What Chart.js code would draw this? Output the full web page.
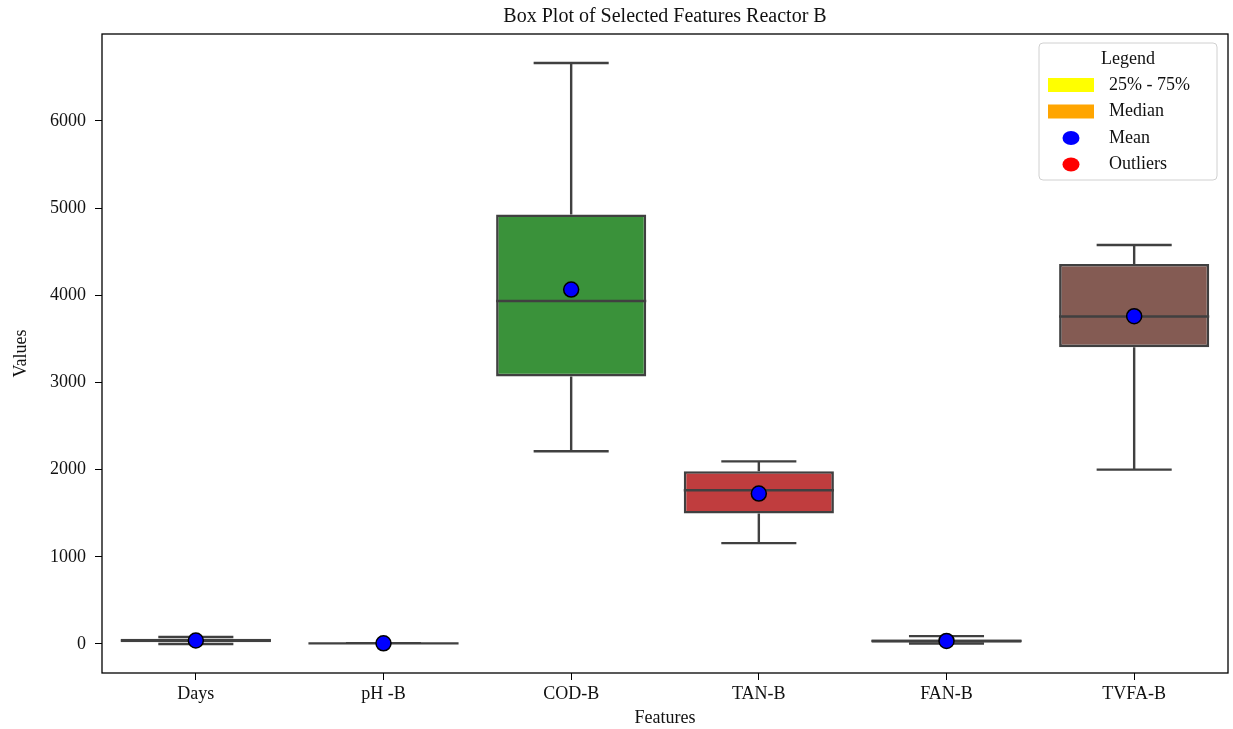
<!DOCTYPE html>
<html>
<head>
<meta charset="utf-8">
<title>Box Plot of Selected Features Reactor B</title>
<script src="https://cdn.jsdelivr.net/npm/chart.js@4.4.1/dist/chart.umd.min.js"></script>
<style>
  html, body { margin: 0; padding: 0; background: #fff; overflow: hidden; }
  #wrap { width: 1233px; height: 729px; position: relative; }
</style>
</head>
<body>
<div id="wrap"><canvas id="grafica"></canvas></div>
<script>
// Datos
const categorias = ['Days', 'pH -B', 'COD-B', 'TAN-B', 'FAN-B', 'TVFA-B'];
const bigoteInf = [0, 6.8, 2210, 1157, 5, 2000];
const cuartil1 = [20, 6.9, 3069, 1496, 15, 3405];
const medianas = [40, 7.2, 3935, 1763, 35, 3756];
const cuartil3 = [60, 7.5, 4927, 1981, 50, 4359];
const bigoteSup = [80, 7.8, 6664, 2095, 90, 4577];
const medias = [40, 7.2, 4065, 1725, 35, 3760];
const ticksY = [0, 1000, 2000, 3000, 4000, 5000, 6000];

const coloresCaja = ['#3274a1', '#e1812c', '#3a923a', '#c03d3e', '#9372b2', '#845b53'];
const gris = '#404040';
const fuente = "'Liberation Serif', 'Times New Roman', serif";

const leyenda = [
  { texto: '25% - 75%', tipo: 'rect', color: '#ffff00' },
  { texto: 'Median', tipo: 'rect', color: '#ffa500' },
  { texto: 'Mean', tipo: 'punto', color: '#0000ff' },
  { texto: 'Outliers', tipo: 'punto', color: '#ff0000' }
];

// marco completo del area de grafico
const marco = {
  id: 'marco',
  afterDraw(chart) {
    const { ctx, chartArea: a } = chart;
    ctx.save();
    ctx.strokeStyle = '#000';
    ctx.lineWidth = 1.3;
    ctx.strokeRect(a.left, a.top, a.right - a.left, a.bottom - a.top);
    ctx.restore();
  }
};

// bigotes y medianas
const bigotes = {
  id: 'bigotes',
  afterDatasetDraw(chart, args) {
    if (args.index !== 0) return;
    const { ctx } = chart;
    const x = chart.scales.x, y = chart.scales.y;
    const meta = chart.getDatasetMeta(0);
    ctx.save();
    ctx.strokeStyle = gris;
    ctx.lineWidth = 2.4;
    categorias.forEach((c, i) => {
      const cx = x.getPixelForValue(i);
      const w = meta.data[i].width;
      const yLo = y.getPixelForValue(bigoteInf[i]);
      const yQ1 = y.getPixelForValue(cuartil1[i]);
      const yMed = y.getPixelForValue(medianas[i]);
      const yQ3 = y.getPixelForValue(cuartil3[i]);
      const yHi = y.getPixelForValue(bigoteSup[i]);
      ctx.beginPath();
      ctx.moveTo(cx, yQ1); ctx.lineTo(cx, yLo);
      ctx.moveTo(cx, yQ3); ctx.lineTo(cx, yHi);
      ctx.moveTo(cx - w / 4, yLo); ctx.lineTo(cx + w / 4, yLo);
      ctx.moveTo(cx - w / 4, yHi); ctx.lineTo(cx + w / 4, yHi);
      ctx.moveTo(cx - w / 2, yMed); ctx.lineTo(cx + w / 2, yMed);
      ctx.stroke();
    });
    ctx.restore();
  }
};

// leyenda dentro del area
const cajaLeyenda = {
  id: 'cajaLeyenda',
  afterDraw(chart) {
    const { ctx, chartArea: a } = chart;
    const ancho = 178, alto = 137;
    const x0 = a.right - 11 - ancho, y0 = a.top + 9;
    ctx.save();
    ctx.fillStyle = 'rgba(255,255,255,0.85)';
    ctx.strokeStyle = '#d0d0d0';
    ctx.lineWidth = 1;
    ctx.beginPath();
    ctx.roundRect(x0, y0, ancho, alto, 4);
    ctx.fill();
    ctx.stroke();
    ctx.fillStyle = '#111';
    ctx.font = '18px ' + fuente;
    ctx.textBaseline = 'middle';
    ctx.textAlign = 'center';
    ctx.fillText('Legend', x0 + ancho / 2, y0 + 16);
    ctx.textAlign = 'left';
    leyenda.forEach((it, k) => {
      const cy = y0 + 42 + k * 26.5;
      ctx.fillStyle = it.color;
      if (it.tipo === 'rect') {
        ctx.fillRect(x0 + 9, cy - 7, 46, 14);
      } else {
        ctx.beginPath();
        ctx.ellipse(x0 + 32, cy, 8.5, 7, 0, 0, Math.PI * 2);
        ctx.fill();
      }
      ctx.fillStyle = '#111';
      ctx.fillText(it.texto, x0 + 70, cy);
    });
    ctx.restore();
  }
};

const grafica = new Chart(document.getElementById('grafica'), {
  data: {
    labels: categorias,
    datasets: [
      {
        type: 'bar',
        label: '25% - 75%',
        data: categorias.map((c, i) => [cuartil1[i], cuartil3[i]]),
        backgroundColor: coloresCaja,
        borderColor: gris,
        borderWidth: 2.6,
        borderSkipped: false,
        categoryPercentage: 0.8,
        barPercentage: 1,
        order: 2
      },
      {
        type: 'line',
        label: 'Mean',
        data: medias,
        showLine: false,
        pointRadius: 7.5,
        pointHoverRadius: 7.5,
        pointBackgroundColor: '#0000ff',
        pointBorderColor: '#000',
        pointBorderWidth: 1.5,
        order: 1
      }
    ]
  },
  options: {
    responsive: true,
    maintainAspectRatio: false,
    animation: false,
    layout: { padding: { left: 0, right: 5, top: 0, bottom: 0 } },
    plugins: {
      legend: { display: false },
      tooltip: { enabled: false },
      title: {
        display: true,
        text: 'Box Plot of Selected Features Reactor B',
        fullSize: false,
        color: '#111',
        font: { family: fuente, size: 20, weight: 'normal' },
        padding: { top: 5, bottom: 5 }
      }
    },
    scales: {
      x: {
        type: 'category',
        offset: true,
        grid: { display: true, offset: false, drawOnChartArea: false, drawTicks: true, tickLength: 7, color: '#000' },
        border: { display: false },
        ticks: { color: '#111', font: { family: fuente, size: 18 }, padding: 3, maxRotation: 0 },
        title: { display: true, text: 'Features', color: '#111', font: { family: fuente, size: 18 }, padding: { top: 0, bottom: 0 } },
        afterFit(s) { s.height = 56; s.paddingLeft = 0; s.paddingRight = 0; }
      },
      y: {
        type: 'linear',
        min: -333,
        max: 6997,
        grid: { display: true, drawOnChartArea: false, drawTicks: true, tickLength: 7, color: '#000' },
        border: { display: false },
        ticks: { color: '#111', font: { family: fuente, size: 18 }, padding: 9, callback: v => String(v) },
        afterBuildTicks(s) { s.ticks = ticksY.map(v => ({ value: v })); },
        title: { display: true, text: 'Values', color: '#111', font: { family: fuente, size: 18 }, padding: { top: 10, bottom: 0 } },
        afterFit(s) { s.width = 102; s.paddingTop = 0; s.paddingBottom = 0; }
      }
    }
  },
  plugins: [bigotes, marco, cajaLeyenda]
});

// el borde derecho del area debe quedar en x = 1228
const dif = 1228 - grafica.chartArea.right;
if (dif > 0 && dif < 20) {
  document.getElementById('wrap').style.width = (1233 + dif) + 'px';
  grafica.resize(1233 + dif, 729);
}
</script>
</body>
</html>
